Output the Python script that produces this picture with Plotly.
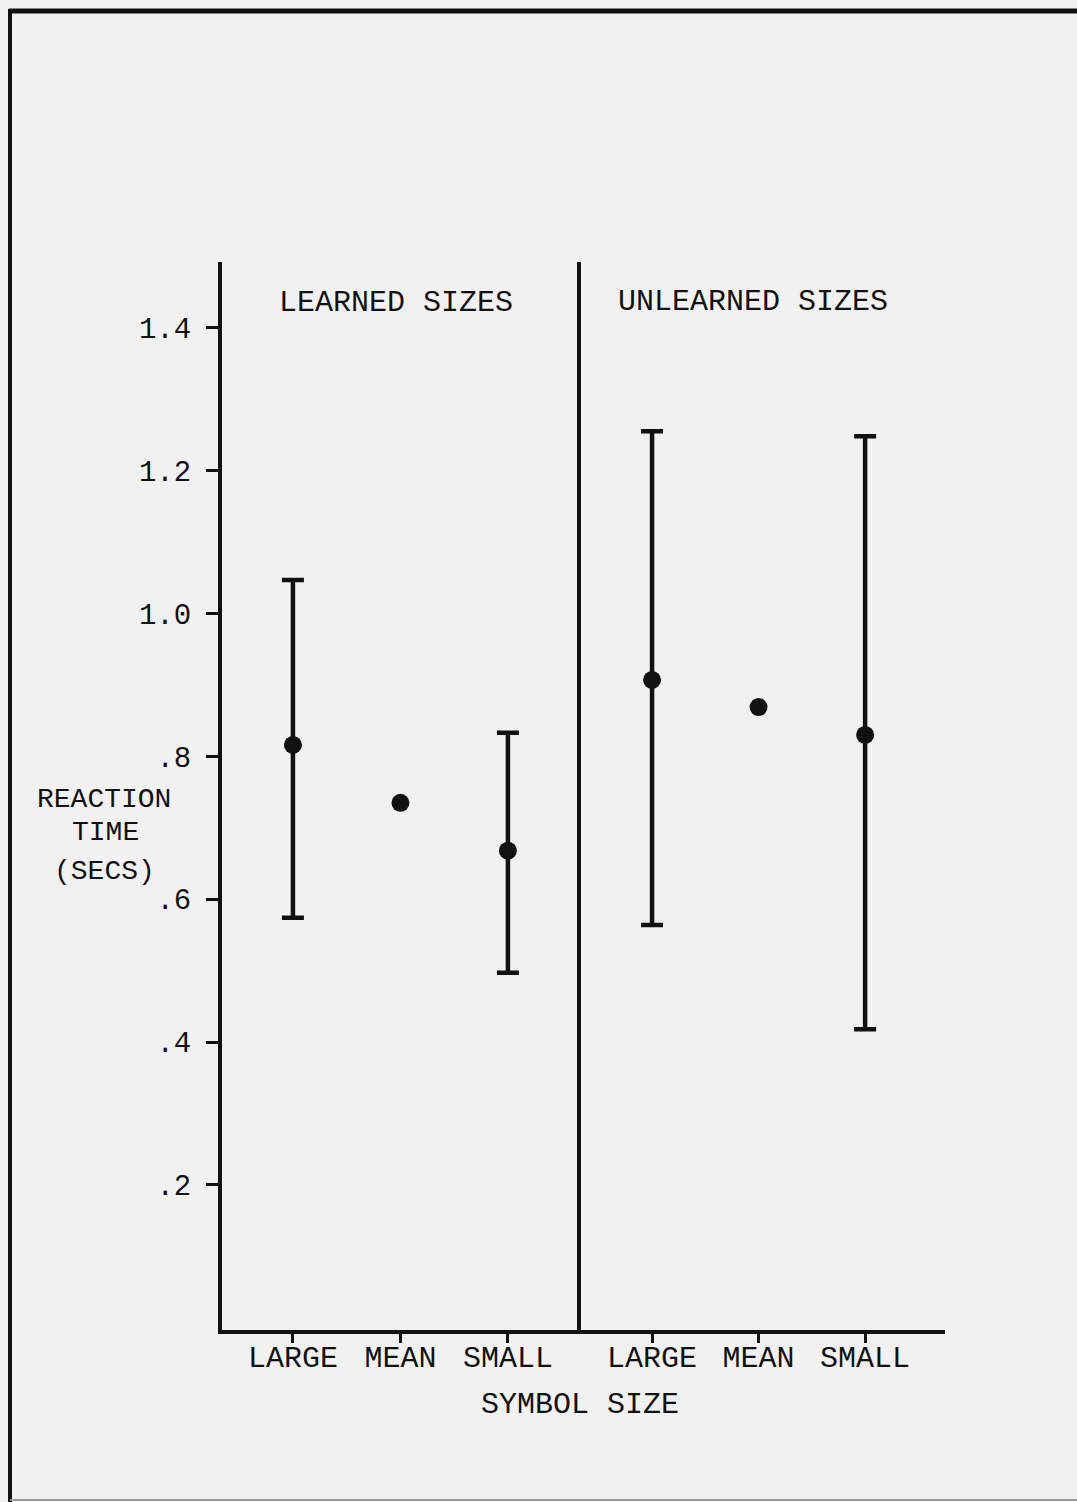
import plotly.graph_objects as go

# ---- data ----
categories = ["LARGE", "MEAN", "SMALL"]
learned_mean = [0.816, 0.735, 0.668]
learned_upper = [1.047, None, 0.833]
learned_lower = [0.574, None, 0.497]
unlearned_mean = [0.907, 0.869, 0.830]
unlearned_upper = [1.255, None, 1.248]
unlearned_lower = [0.564, None, 0.418]
y_tickvals = [0.2, 0.4, 0.6, 0.8, 1.0, 1.2, 1.4]
y_ticktext = [".2", ".4", ".6", ".8", "1.0", "1.2", "1.4"]

INK = "#111111"
BG = "#f1f1f1"
FONT = "Liberation Mono, Courier New, monospace"
FS = 30

W, H = 1077, 1502
ML, MR, MT, MB = 222, 132, 262, 172
PW = W - ML - MR
PH = H - MT - MB


def px_x(p):
    return (p - ML) / PW


def px_y(p):
    return (H - MB - p) / PH


fig = go.Figure()

for mean, up, lo, xa, ya in [
    (learned_mean, learned_upper, learned_lower, "x", "y"),
    (unlearned_mean, unlearned_upper, unlearned_lower, "x2", "y2"),
]:
    idx = [i for i, u in enumerate(up) if u is not None]
    fig.add_trace(go.Scatter(
        x=[categories[i] for i in idx], y=[mean[i] for i in idx],
        mode="markers", xaxis=xa, yaxis=ya,
        marker=dict(size=1, color=INK, opacity=0),
        error_y=dict(type="data", symmetric=False,
                     array=[up[i] - mean[i] for i in idx],
                     arrayminus=[mean[i] - lo[i] for i in idx],
                     color=INK, thickness=4.5, width=11),
        showlegend=False, hoverinfo="skip"))
    fig.add_trace(go.Scatter(
        x=categories, y=mean, mode="markers", xaxis=xa, yaxis=ya,
        marker=dict(size=18, color=INK),
        showlegend=False))

d = 359 / PW
yr = [-0.003, 1.492]
axis_common = dict(showline=True, linewidth=4, linecolor=INK, showgrid=False,
                   zeroline=False, mirror=False)
xcommon = dict(type="category", categoryorder="array", categoryarray=categories,
               ticks="outside", ticklen=9, tickwidth=3, tickcolor=INK,
               tickfont=dict(size=FS, family=FONT), ticklabelstandoff=-12)
fig.update_layout(
    width=W, height=H,
    margin=dict(l=ML, r=MR, t=MT, b=MB),
    paper_bgcolor=BG, plot_bgcolor=BG,
    font=dict(family=FONT, color=INK, size=FS),
    xaxis=dict(domain=[0, d], range=[-0.66, 2.68], anchor="y",
               **xcommon, **axis_common),
    xaxis2=dict(domain=[d, 1], range=[-0.667, 2.75], anchor="y2",
                **xcommon, **axis_common),
    yaxis=dict(range=yr, tickvals=y_tickvals, ticktext=y_ticktext,
               ticks="outside", ticklen=12, tickwidth=3, tickcolor=INK,
               tickfont=dict(size=29, family=FONT), ticklabelstandoff=9,
               anchor="x", **axis_common),
    yaxis2=dict(range=yr, showticklabels=False, ticks="", anchor="x2",
                matches="y", **axis_common),
)

ann = [
    ("LEARNED SIZES", 396, 303, FS),
    ("UNLEARNED SIZES", 753, 302, FS),
    ("SYMBOL SIZE", 580, 1405, FS),
    ("REACTION", 104, 799, 28),
    ("TIME", 106, 832, 28),
    ("(SECS)", 104, 871, 28),
]
for t, x, y, s in ann:
    fig.add_annotation(text=t, x=px_x(x), y=px_y(y), xref="paper", yref="paper",
                       showarrow=False, xanchor="center", yanchor="middle",
                       borderpad=0,
                       font=dict(size=s, family=FONT, color=INK))

# page border (scanned frame)
fig.add_shape(type="line", xref="paper", yref="paper",
              x0=px_x(9), x1=px_x(W), y0=px_y(11), y1=px_y(11),
              line=dict(color=INK, width=5))
fig.add_shape(type="line", xref="paper", yref="paper",
              x0=px_x(10), x1=px_x(10), y0=px_y(9), y1=px_y(H),
              line=dict(color=INK, width=4))
fig.add_shape(type="line", xref="paper", yref="paper",
              x0=px_x(10), x1=px_x(W), y0=px_y(1500), y1=px_y(1500),
              line=dict(color="#9a9a9a", width=2))

fig.write_html("out.html", config={"displayModeBar": False},
               post_script="document.body.style.margin='0px';")
